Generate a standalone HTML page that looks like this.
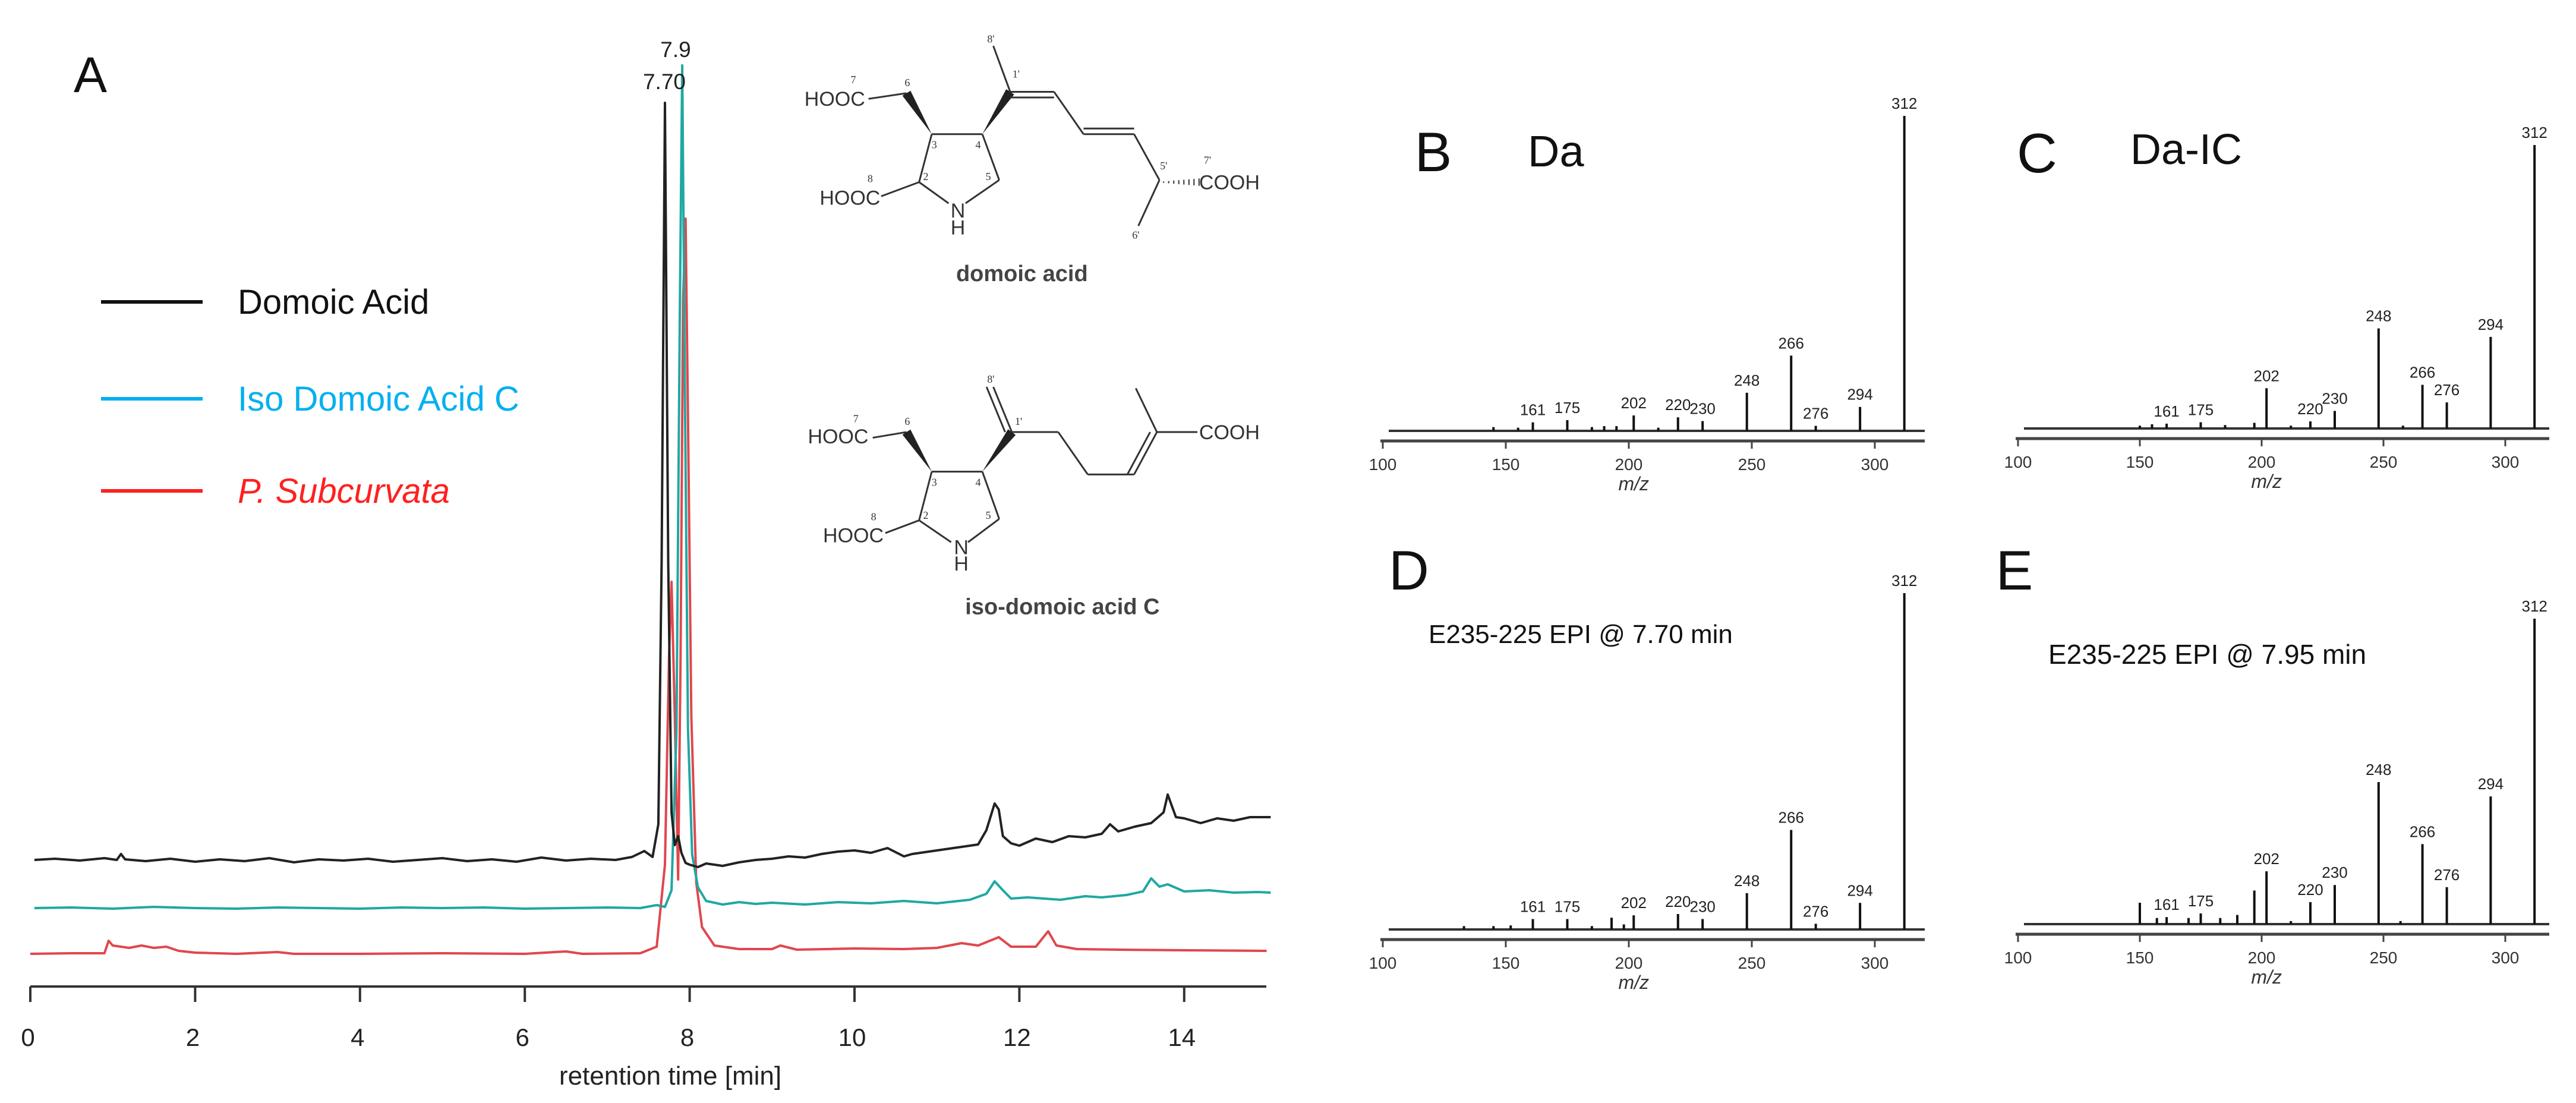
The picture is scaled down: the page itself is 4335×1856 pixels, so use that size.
<!DOCTYPE html>
<html><head><meta charset="utf-8"><style>
html,body{margin:0;padding:0;background:#fff;}
svg{display:block;font-family:"Liberation Sans",sans-serif;}
</style></head><body>
<svg id="fig" width="4335" height="1856" viewBox="0 0 4335 1856" xmlns="http://www.w3.org/2000/svg">
<rect width="4335" height="1856" fill="#fff"/>
<g id="panelA"></g>
<g id="structs"></g>
<g id="spectra"></g>
</svg>
<script>
// ---------- Panel A data (retention time [min], relative intensity px) ----------
const timeTicks = [0,2,4,6,8,10,12,14];
const blackPts = [[0.05,0],[0.3,2],[0.6,-1],[0.9,3],[1.05,0],[1.1,10],[1.15,1],[1.4,-2],[1.7,2],[2.0,-3],[2.3,1],[2.6,-2],[2.9,3],[3.2,-4],[3.5,1],[3.8,-1],[4.1,2],[4.4,-3],[4.7,0],[5.0,3],[5.3,-2],[5.6,1],[5.9,-3],[6.2,4],[6.5,-1],[6.8,2],[7.1,0],[7.3,5],[7.45,15],[7.55,5],[7.62,60],[7.66,500],[7.70,1274],[7.74,500],[7.78,80],[7.82,25],[7.86,40],[7.9,12],[7.95,-5],[8.0,-8],[8.1,-12],[8.2,-6],[8.4,-10],[8.6,-4],[8.8,0],[9.0,2],[9.2,6],[9.4,4],[9.6,10],[9.8,14],[10.0,16],[10.2,12],[10.4,20],[10.6,6],[10.7,10],[10.9,14],[11.1,18],[11.3,22],[11.5,26],[11.6,50],[11.7,95],[11.75,85],[11.8,40],[11.9,28],[12.0,24],[12.2,36],[12.4,30],[12.6,40],[12.8,38],[13.0,44],[13.1,60],[13.2,48],[13.4,56],[13.6,62],[13.75,80],[13.8,110],[13.9,72],[14.0,70],[14.2,62],[14.4,70],[14.6,66],[14.8,72],[15.05,72]];
const tealPts = [[0.05,0],[0.5,1],[1.0,-1],[1.5,2],[2.0,0],[2.5,-1],[3.0,1],[3.5,0],[4.0,-1],[4.5,1],[5.0,0],[5.5,1],[6.0,-1],[6.5,0],[7.0,1],[7.4,0],[7.6,5],[7.7,2],[7.78,30],[7.84,300],[7.88,1000],[7.91,1418],[7.94,900],[7.98,300],[8.03,90],[8.1,35],[8.2,12],[8.4,6],[8.6,10],[8.8,7],[9.0,9],[9.4,6],[9.8,10],[10.2,8],[10.6,12],[11.0,8],[11.4,14],[11.6,24],[11.7,45],[11.8,30],[11.9,16],[12.1,18],[12.5,14],[12.8,20],[13.0,18],[13.3,22],[13.5,28],[13.6,50],[13.7,36],[13.8,40],[14.0,28],[14.3,30],[14.6,26],[14.9,27],[15.05,26]];
const redPts = [[0.0,0],[0.5,1],[0.9,1],[0.95,22],[1.0,14],[1.2,10],[1.35,14],[1.5,10],[1.65,12],[1.8,5],[2.0,2],[2.5,0],[3.0,3],[3.2,0],[4.0,0],[5.0,1],[6.0,0],[6.5,4],[6.7,0],[7.4,1],[7.6,12],[7.7,150],[7.75,500],[7.78,626],[7.82,400],[7.86,125],[7.89,500],[7.92,1100],[7.95,1237],[7.98,900],[8.02,400],[8.08,120],[8.15,45],[8.3,14],[8.6,8],[9.0,8],[9.1,14],[9.3,7],[10.0,9],[10.6,8],[11.0,10],[11.3,18],[11.5,14],[11.75,28],[11.9,12],[12.2,12],[12.35,38],[12.45,14],[12.7,8],[13.2,7],[14.0,6],[15.0,5]];
const peakLabels = ["7.70","7.9"];

// ---------- MS spectra data (m/z, relative intensity %) ----------
const mzTicks = [100,150,200,250,300];
const bMz  = [145,155,161,175,185,190,195,202,212,220,230,248,266,276,294,312];
const bInt = [1.2,1,2.7,3.4,1.2,1.5,1.5,4.9,1,4.3,3.1,12.1,23.9,1.6,7.6,100];
const cMz  = [150,155,161,175,185,197,202,212,220,230,258,248,266,276,294,312];
const cInt = [1,1.5,1.7,2.2,1.2,2,14.2,1,2.5,6.2,1,35.3,15.4,9.2,32.3,100];
const dMz  = [133,145,152,161,175,185,193,198,202,220,230,248,266,276,294,312];
const dInt = [1,1,1.2,3.1,3.1,1,3.5,1.5,4.2,4.6,3.1,10.8,29.6,1.7,7.9,100];
const eMz  = [150,157,161,170,175,183,190,197,202,212,220,230,248,257,266,276,294,312];
const eInt = [7,2,2.3,2,3.5,2,3,11,17.3,1,7.2,12.8,46.5,1,26.2,12.1,41.8,100];
const labelMz = [161,175,202,220,230,248,266,276,294,312];

const NS = "http://www.w3.org/2000/svg";
function mk(tag, attrs, parent){ const e=document.createElementNS(NS,tag); for(const k in attrs) e.setAttribute(k,attrs[k]); parent.appendChild(e); return e; }

// ---------- Panel A ----------
const A = document.getElementById('panelA');
const tx = t => 51 + t*138.7;
const axisY = 1660;
function tracePath(pts, base){ return pts.map((p,i)=>(i?'L':'M')+tx(p[0]).toFixed(1)+','+(base-p[1]).toFixed(1)).join(''); }

let el;
el = mk('text',{x:152,y:155,'font-size':84,'text-anchor':'middle',fill:'#111'},A); el.textContent='A';
 

el = mk('line',{x1:51,y1:axisY,x2:2131,y2:axisY,stroke:'#333','stroke-width':4},A);
 
timeTicks.forEach(t=>{
  const tk = mk('line',{x1:tx(t),y1:axisY,x2:tx(t),y2:axisY+26,stroke:'#333','stroke-width':4},A);
   
  const lb = mk('text',{x:tx(t)-4,y:1760,'font-size':42,'text-anchor':'middle',fill:'#222'},A);
  lb.textContent = t;
   
});
el = mk('text',{x:1128,y:1825,'font-size':44,'text-anchor':'middle',fill:'#222'},A); el.textContent='retention time [min]';
 

el = mk('path',{d:tracePath(redPts,1605),fill:'none',stroke:'#e0474c','stroke-width':4,'stroke-linejoin':'round'},A);
 
el = mk('path',{d:tracePath(tealPts,1528),fill:'none',stroke:'#1fa8a2','stroke-width':4,'stroke-linejoin':'round'},A);
 
el = mk('path',{d:tracePath(blackPts,1447),fill:'none',stroke:'#222','stroke-width':4,'stroke-linejoin':'round'},A);
 

el = mk('text',{x:1118,y:150,'font-size':37,'text-anchor':'middle',fill:'#222'},A); el.textContent=peakLabels[0];
 
el = mk('text',{x:1137,y:96,'font-size':37,'text-anchor':'middle',fill:'#222'},A); el.textContent=peakLabels[1];
 

// legend
const legend = [['Domoic Acid','#111',508,'normal'],['Iso Domoic Acid C','#00b0f0',671,'normal'],['P. Subcurvata','#ff2020',826,'italic']];
legend.forEach(l=>{
  const g = mk('g',{},A);
   
  mk('line',{x1:170,y1:l[2],x2:341,y2:l[2],stroke:l[1],'stroke-width':6},g);
  const t = mk('text',{x:400,y:l[2]+20,'font-size':58,fill:l[1],'font-style':l[3]},g); t.textContent=l[0];
});

// ---------- Chemical structures ----------
const S = document.getElementById('structs');
const zx = x => x*1.419, zy = y => y*1.188;
function bond(a,b,w){ mk('line',{x1:zx(a[0]),y1:zy(a[1]),x2:zx(b[0]),y2:zy(b[1]),stroke:'#333','stroke-width':w||3},S); }
function dbl(a,b,dx,dy){ bond(a,b); bond([a[0]+dx,a[1]+dy],[b[0]+dx,b[1]+dy]); }
function wedge(a,b){ const x1=zx(a[0]),y1=zy(a[1]),x2=zx(b[0]),y2=zy(b[1]); const dx=x2-x1,dy=y2-y1,L=Math.hypot(dx,dy),nx=-dy/L*8,ny=dx/L*8;
  mk('polygon',{points:`${x1},${y1} ${x2+nx},${y2+ny} ${x2-nx},${y2-ny}`,fill:'#222'},S); }
function lbl(x,y,s,fs,extra){ const t=mk('text',Object.assign({x:zx(x),y:zy(y),'font-size':fs||34,fill:'#333','text-anchor':'middle'},extra||{}),S); t.textContent=s; return t; }
// domoic acid
bond([1030,140],[1075,132]); wedge([1105,190],[1075,132]);
bond([1105,190],[1165,190]); bond([1165,190],[1185,255]); bond([1185,255],[1145,288]); bond([1125,288],[1090,258]); bond([1090,258],[1105,190]);
bond([1090,258],[1045,278]);
wedge([1165,190],[1198,130]); bond([1198,130],[1178,65]);
dbl([1198,130],[1250,130],0,8); bond([1250,130],[1285,190]); dbl([1285,190],[1345,190],0,-8); bond([1345,190],[1375,255]); bond([1375,255],[1350,320]);
for(let i=0;i<8;i++){ const x=1380+i*6; bond([x,258-1-i*0.6],[x,258+1+i*0.6],2); }
lbl(990,150,'HOOC',34); lbl(1008,290,'HOOC',34); lbl(1136,308,'N',34); lbl(1136,332,'H',34); lbl(1458,268,'COOH',34);
[['7',1012,118],['6',1076,122],['3',1108,210],['4',1160,210],['2',1098,255],['5',1172,255],['8',1032,258],["1'",1205,110],["8'",1175,60],["5'",1380,240],["6'",1347,338],["7'",1432,232]].forEach(n=>lbl(n[1],n[2],n[0],18,{'font-family':'Liberation Serif, serif'}));
el = lbl(1212,398,'domoic acid',38,{'font-weight':'bold',fill:'#444'});
 
// iso-domoic acid C
bond([1035,620],[1075,612]); wedge([1105,668],[1075,612]);
bond([1105,668],[1165,668]); bond([1165,668],[1185,735]); bond([1185,735],[1148,768]); bond([1128,768],[1090,737]); bond([1090,737],[1105,668]);
bond([1090,737],[1050,755]);
wedge([1165,668],[1200,612]); dbl([1200,612],[1178,548],-8,0);
bond([1200,612],[1255,612]); bond([1255,612],[1290,672]); bond([1290,672],[1345,672]); dbl([1345,672],[1372,612],-8,0);
bond([1372,612],[1420,612]); bond([1372,612],[1347,550]);
lbl(994,628,'HOOC',34); lbl(1012,768,'HOOC',34); lbl(1140,785,'N',34); lbl(1140,808,'H',34); lbl(1458,622,'COOH',34);
[['7',1015,598],['6',1076,602],['3',1108,688],['4',1160,688],['2',1098,735],['5',1172,735],['8',1036,737],["1'",1208,602],["8'",1175,542]].forEach(n=>lbl(n[1],n[2],n[0],18,{'font-family':'Liberation Serif, serif'}));
el = lbl(1260,870,'iso-domoic acid C',38,{'font-weight':'bold',fill:'#444'});
 

// ---------- Spectra ----------
const SP = document.getElementById('spectra');
function spectrum(name, mzArr, intArr, x100, k, base, H, axEnd, letter, letterX, letterY, title, titleX, titleY, titleSize){
  const g = mk('g',{},SP);
   
  const xm = m => x100 + (m-100)*k;
  const ys = v => base - v/100*H;
  const bl = mk('line',{x1:xm(100)+10,y1:base,x2:axEnd,y2:base,stroke:'#333','stroke-width':4},g);
   
  const ax = mk('line',{x1:xm(100)-4,y1:base+17,x2:axEnd,y2:base+17,stroke:'#444','stroke-width':5},g);
   
  mzTicks.forEach(m=>{
    const tk = mk('line',{x1:xm(m),y1:base+17,x2:xm(m),y2:base+30,stroke:'#444','stroke-width':3},g);
     
    const tl = mk('text',{x:xm(m),y:base+66,'font-size':28,'text-anchor':'middle',fill:'#333'},g);
    tl.textContent = m;
     
  });
  const mzt = mk('text',{x:xm(202),y:base+100,'font-size':32,'text-anchor':'middle','font-style':'italic',fill:'#333'},g);
  mzt.textContent='m/z';
   
  mzArr.forEach((m,i)=>{
    const p = mk('line',{x1:xm(m),y1:base,x2:xm(m),y2:ys(intArr[i]),stroke:'#111','stroke-width':4},g);
     
    if(labelMz.indexOf(m)>=0){
      const t = mk('text',{x:xm(m),y:ys(intArr[i])-12,'font-size':26,'text-anchor':'middle',fill:'#222'},g);
      t.textContent = m;
       
    }
  });
  const L = mk('text',{x:letterX,y:letterY,'font-size':94,'text-anchor':'middle',fill:'#111'},g);
  L.textContent = letter;
   
  const T = mk('text',{x:titleX,y:titleY,'font-size':titleSize,fill:'#111'},g);
  T.textContent = title;
   
}
spectrum('panel-b-spectrum', bMz, bInt, 2327, 4.14, 725, 530, 3239, 'B', 2412, 288, 'Da', 2571, 280, 74);
spectrum('panel-c-spectrum', cMz, cInt, 3396, 4.1, 721, 477, 4290, 'C', 3428, 290, 'Da-IC', 3585, 276, 72);
spectrum('panel-d-spectrum', dMz, dInt, 2327, 4.14, 1564, 566, 3239, 'D', 2371, 992, 'E235-225 EPI @ 7.70 min', 2404, 1082, 44);
spectrum('panel-e-spectrum', eMz, eInt, 3396, 4.1, 1555, 514, 4290, 'E', 3390, 992, 'E235-225 EPI @ 7.95 min', 3447, 1117, 46);
</script>
</body></html>
